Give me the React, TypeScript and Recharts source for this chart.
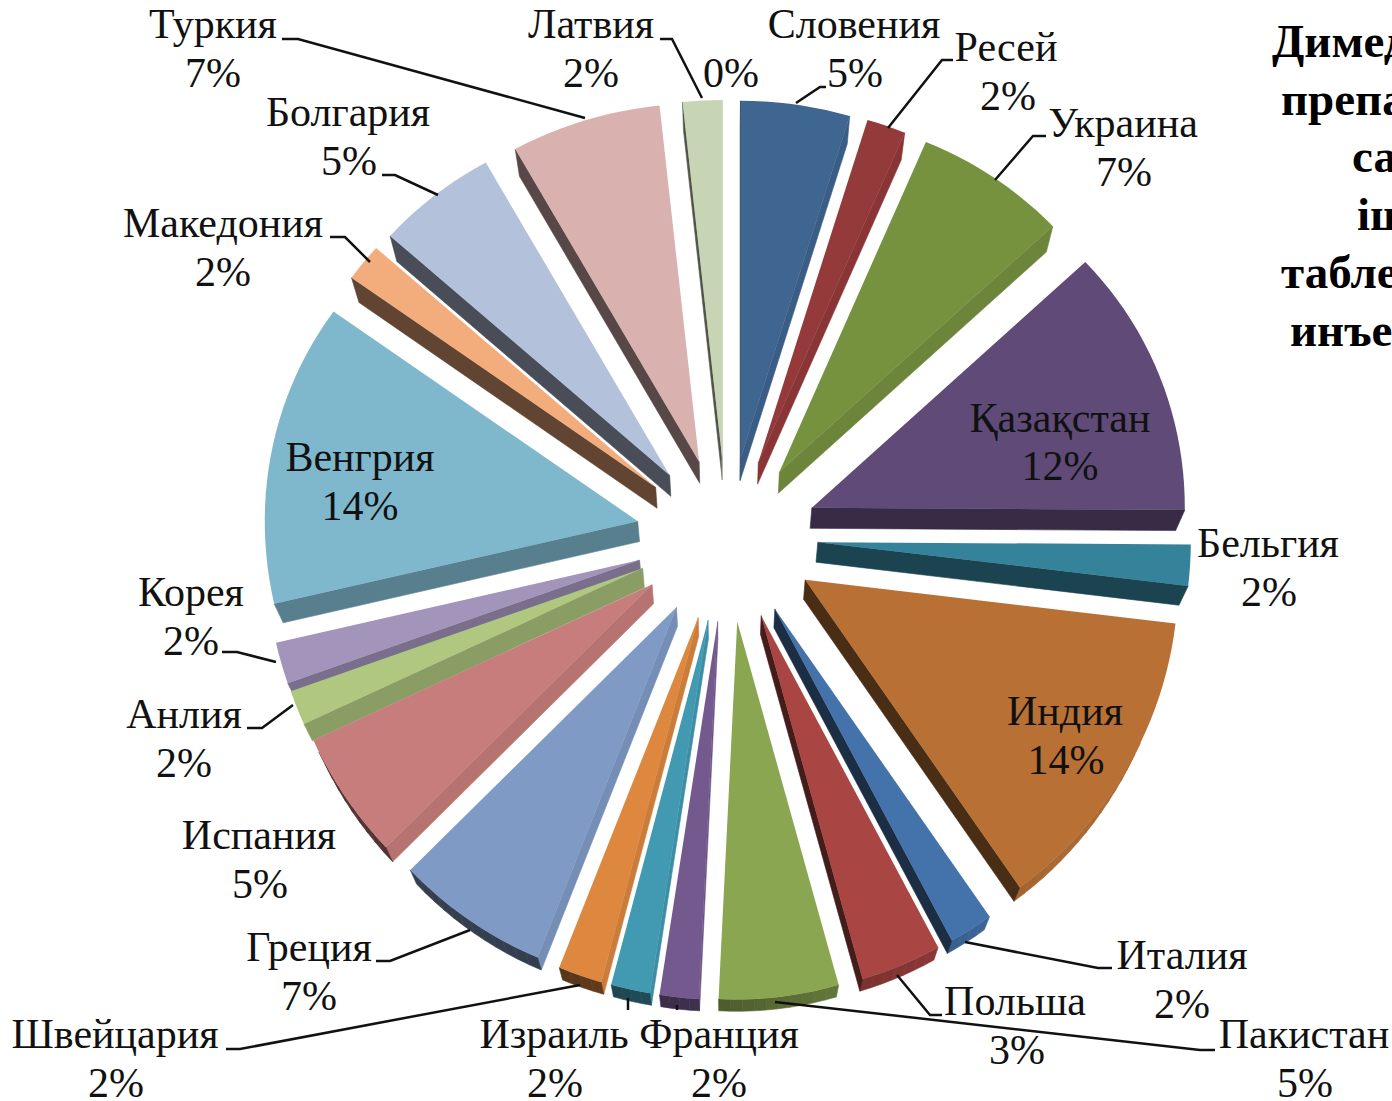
import React from "react";
import { PieChart, Pie } from "recharts";

const names = ["Словения","Ресей","Украина","Қазақстан","Бельгия","Индия","Италия","Польша","Пакистан","Франция","Израиль","Швейцария","Греция","Испания","Анлия","Корея","Венгрия","Македония","Болгария","Туркия","Латвия",""];
const shares = [4.75,1.7,6.7,12.05,1.8,13.4,1.9,3.5,5.2,1.7,1.7,1.9,6.6,5.5,1.5,1.8,13.46,1.7,5.3,6.54,1.7,0];
const percentLabels = ["5%","2%","7%","12%","2%","14%","2%","3%","5%","2%","2%","2%","7%","5%","2%","2%","14%","2%","5%","7%","2%","0%"];
const colors = ["#3F6591","#953A3A","#76923F","#5F4A78","#35839A","#B87035","#4473AB","#A94542","#8BA650","#74598F","#429AB2","#DD873F","#7F9AC5","#C77D7B","#AFC77F","#A294BA","#7FB8CD","#F3AD7C","#B3C1DB","#D9B2B0","#C8D5B4","#FFFFFF"];

// Hand placement of each label, in clockwise slice order: [name x, name baseline, percent x, percent baseline]
const labelPlaces = [
  [854,38,855,87],[1006,61,1008,110],[1123,137,1124,186],[1060,432,1060,480],[1268,557,1269,606],
  [1065,725,1066,774],[1182,969,1182,1018],[1015,1015,1017,1064],[1304,1048,1305,1097],[719,1048,719,1097],
  [554,1048,555,1097],[115,1048,116,1097],[309,961,309,1010],[259,849,260,898],[184,728,184,777],
  [191,606,191,655],[360,471,360,520],[223,237,223,286],[348,126,349,175],[213,38,213,87],[591,38,591,87],[731,87,731,87],
];
const leaders = [
  "796,103 820,87 826,87","888,128 942,60 953,60","995,180 1033,136 1046,136","","",
  "","965,942 1098,968 1112,968","897,975 930,1015 942,1015","775,1002 1200,1050 1215,1050","677,1005 677,1010",
  "628,998 628,1010","580,985 240,1049 226,1049","470,930 390,961 376,961","","293,705 262,728 247,728",
  "276,662 237,652 222,652","","370,262 345,237 330,237","438,195 395,175 382,175","585,118 298,39 282,39","702,98 672,39 660,39","",
];
const titleLines: [string, number][] = [["Димед",1272],["препа",1281],["са",1352],["іш",1357],["табле",1281],["инъе",1290]];

const order = names.map((_, i) => i).reverse();
const table = order.map((i) => ({ name: names[i], share: shares[i], place: i }));

const CX = 727, CY = 537;
const rad = (d: number) => (d * Math.PI) / 180;

function shade(hex: string, f: number) {
  const n = parseInt(hex.slice(1), 16);
  const c = (v: number) => Math.round(Math.min(255, v * f));
  return `rgb(${c((n >> 16) & 255)},${c((n >> 8) & 255)},${c(n & 255)})`;
}
const lower = (p: number[]) => [p[0] - 0.02 * (p[0] - CX), p[1] + 28 - 0.018 * (p[1] - 100)];

function Slice(props: any) {
  const { startAngle, endAngle, outerRadius, cx, cy, index } = props;
  const a0 = 90 - Math.max(startAngle, endAngle);
  const a1 = 90 - Math.min(startAngle, endAngle);
  const span = a1 - a0;
  if (!(span > 0.01)) return <g />;
  const mid = (a0 + a1) / 2;
  const tx = cx + 91 * Math.sin(rad(mid));
  const ty = cy - (82 - 3 * Math.cos(rad(mid))) * Math.cos(rad(mid));
  const pts: number[][] = [[tx, ty]];
  const n = Math.max(3, Math.ceil(span / 2));
  for (let k = 0; k <= n; k++) {
    const deg = a0 + (span * k) / n;
    const a = rad(deg);
    // the lower-left quarter of the perspective view bulges slightly outward
    const bulge = deg > 180 && deg < 270 ? 8 * Math.sin(rad(2 * (deg - 180))) : 0;
    pts.push([tx + (outerRadius + bulge) * Math.sin(a), ty - (368 + bulge - 10 * Math.cos(a)) * Math.cos(a)]);
  }
  const fill = colors[table[index].place];
  const walls: React.ReactNode[] = [];
  pts.forEach((p, k) => {
    const q = pts[(k + 1) % pts.length];
    const dx = q[0] - p[0], dy = q[1] - p[1];
    const len = Math.hypot(dx, dy) || 1;
    const nx = dy / len, ny = -dx / len;
    const lp = lower(p), lq = lower(q);
    const d = nx * (lp[0] - p[0]) + ny * (lp[1] - p[1]);
    if (d <= 0) return;
    const f = Math.max(0.4, Math.min(0.92, 0.58 + 0.5 * nx));
    const col = shade(fill, f);
    walls.push(
      <polygon key={k} points={[p, q, lq, lp].map((v) => v.join(",")).join(" ")} fill={col} stroke={col} strokeWidth={0.6} />
    );
  });
  return (
    <g>
      {walls}
      <polygon points={pts.map((v) => v.join(",")).join(" ")} fill={fill} />
    </g>
  );
}

function SliceLabel(props: any) {
  const i = table[props.index].place;
  const [nx, ny, px, py] = labelPlaces[i];
  const style = { fontFamily: "'Liberation Serif'", fontSize: 42, fill: "#111" };
  return (
    <g>
      {names[i] ? <text x={nx} y={ny} textAnchor="middle" {...style}>{names[i]}</text> : null}
      <text x={px} y={py} textAnchor="middle" {...style}>{percentLabels[i]}</text>
    </g>
  );
}

function SliceLeader(props: any) {
  const pts = leaders[table[props.index].place];
  return pts ? <polyline points={pts} fill="none" stroke="#111" strokeWidth={2.5} /> : <g />;
}

export default function App() {
  return (
    <div style={{ position: "absolute", left: 0, top: 0, width: 1392, height: 1101, overflow: "hidden", background: "#fff" }}>
      <PieChart width={1392} height={1101} margin={{ top: 0, right: 0, bottom: 0, left: 0 }}>
        <Pie
          data={table}
          dataKey="share"
          nameKey="name"
          cx={CX}
          cy={CY}
          innerRadius={0}
          outerRadius={373}
          startAngle={90}
          endAngle={450}
          paddingAngle={0}
          minAngle={0}
          stroke="none"
          isAnimationActive={false}
          shape={Slice}
          inactiveShape={Slice}
          label={SliceLabel}
          labelLine={SliceLeader}
        />
      </PieChart>
      <svg width={1392} height={1101} style={{ position: "absolute", left: 0, top: 0, pointerEvents: "none" }}>
        {titleLines.map(([t, x], i) => (
          <text key={i} x={x} y={57 + i * 57.7} fontFamily="'Liberation Serif'" fontWeight="bold" fontSize={47} fill="#000">{t}</text>
        ))}
      </svg>
    </div>
  );
}
